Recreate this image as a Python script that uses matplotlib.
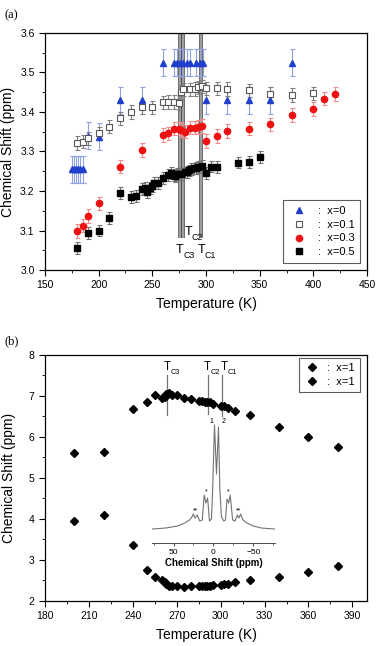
"""Chemical shift vs temperature: (a) x=0..0.5 series with T_C markers, (b) x=1 with NMR inset."""
import matplotlib
matplotlib.use("Agg")
import matplotlib.pyplot as plt
from matplotlib.ticker import MultipleLocator, FormatStrFormatter
from matplotlib.transforms import offset_copy

plt.rcParams["font.family"] = ["Liberation Sans", "DejaVu Sans"]

# ---- panel (a) data ----
T_X0 = [175, 177, 179, 181, 183, 185, 190, 200, 220, 240, 260, 270, 273, 276, 279, 282, 285,
        291, 294, 297, 300, 320, 340, 360, 380]
S_X0 = [3.255, 3.255, 3.255, 3.255, 3.255, 3.255, 3.34, 3.337, 3.43, 3.43, 3.525, 3.525, 3.525,
        3.525, 3.525, 3.525, 3.525, 3.525, 3.525, 3.525, 3.43, 3.43, 3.43, 3.43, 3.525]
T_X01 = [180, 185, 190, 200, 210, 220, 230, 240, 250, 260, 265, 270, 275, 277, 279, 285, 290,
         293, 296, 300, 310, 320, 340, 360, 380, 400]
S_X01 = [3.321, 3.325, 3.333, 3.346, 3.363, 3.384, 3.400, 3.412, 3.412, 3.424, 3.425, 3.425,
         3.423, 3.451, 3.457, 3.457, 3.458, 3.462, 3.465, 3.460, 3.460, 3.458, 3.455, 3.445,
         3.443, 3.447]
T_X03 = [180, 185, 190, 200, 220, 240, 260, 265, 270, 275, 277, 280, 285, 290, 293, 296, 300,
         310, 320, 340, 360, 380, 400, 410, 420]
S_X03 = [3.099, 3.112, 3.137, 3.169, 3.262, 3.304, 3.342, 3.346, 3.358, 3.358, 3.354, 3.350,
         3.360, 3.360, 3.362, 3.365, 3.327, 3.339, 3.352, 3.358, 3.369, 3.392, 3.408, 3.434, 3.446]
T_X05 = [180, 190, 200, 210, 220, 230, 235, 240, 243, 245, 248, 250, 252, 255, 260, 265, 267,
         270, 271, 273, 275, 277, 280, 282, 284, 286, 289, 291, 293, 296, 300, 305, 310, 330,
         340, 350]
S_X05 = [3.056, 3.094, 3.100, 3.132, 3.194, 3.184, 3.188, 3.205, 3.207, 3.197, 3.207, 3.213,
         3.221, 3.220, 3.232, 3.240, 3.245, 3.240, 3.237, 3.243, 3.242, 3.243, 3.247, 3.249,
         3.252, 3.255, 3.257, 3.259, 3.260, 3.263, 3.245, 3.262, 3.260, 3.272, 3.274, 3.286]
ERR_X0, ERR_X01, ERR_X03, ERR_X05 = 0.034, 0.017, 0.017, 0.015
TC_A = [276.0, 278.6, 295.2]          # T_C3, T_C2, T_C1

# ---- panel (b) data ----
T_B = [200, 220, 240, 250, 255, 260, 262, 263, 265, 267, 270, 275, 280, 285, 287, 289, 291,
       293, 295, 300, 302, 305, 310, 320, 340, 360, 380]
S_B_UP = [5.60, 5.64, 6.67, 6.86, 7.02, 6.94, 6.97, 7.04, 7.08, 7.03, 7.02, 6.94, 6.92, 6.88,
          6.87, 6.85, 6.84, 6.84, 6.81, 6.75, 6.74, 6.71, 6.64, 6.53, 6.23, 6.00, 5.76]
S_B_LO = [3.95, 4.09, 3.37, 2.76, 2.58, 2.50, 2.45, 2.41, 2.37, 2.35, 2.35, 2.33, 2.36, 2.35,
          2.36, 2.37, 2.37, 2.37, 2.38, 2.38, 2.40, 2.42, 2.46, 2.50, 2.59, 2.71, 2.85]
TC_B = [263.2, 291.7, 301.2]          # T_C3, T_C2, T_C1

# inset NMR spectrum, traced (ppm, arbitrary intensity)
SPEC_PPM = [77, 60, 45, 36, 30, 27, 25.4, 23, 20.4, 17, 14, 11.6, 9.5, 7.3, 5, 2.5, 1, -1.3,
            -3.8, -6.3, -8, -10, -13, -15, -17, -19, -21, -24, -27, -30, -32, -34, -37, -42,
            -50, -60, -77]
SPEC_INT = [0, 1, 3, 6, 9, 12, 15, 11, 14, 8, 9, 34, 26, 31, 8, 10, 40, 104, 55, 102, 40, 12,
            8, 9, 30, 26, 34, 9, 8, 14, 11, 15, 9, 6, 3, 1, 0]


def style_axes(ax, fs=7.5):
    ax.tick_params(which="both", direction="out", top=False, right=False, labelsize=fs)
    ax.tick_params(which="major", length=4, width=0.8)
    ax.tick_params(which="minor", length=2, width=0.6)
    for sp in ax.spines.values():
        sp.set_linewidth(0.9)


def tc_label(ax, x, y, sub, fs=9, sfs=6.3):
    # "T" with a small, lowered subscript, like the original figure
    ax.text(x, y, "T", fontsize=fs, ha="left", va="baseline")
    tr = offset_copy(ax.transData, fig=ax.figure, x=0.57 * fs, y=-0.38 * fs, units="points")
    ax.text(x, y, sub, fontsize=sfs, ha="left", va="baseline", transform=tr)


fig = plt.figure(figsize=(3.78, 6.46), dpi=100)

# ================= (a) =================
ax = fig.add_axes([0.119, 0.582, 0.852, 0.367])
for x in TC_A:
    ax.plot([x, x], [3.08, 3.6], color="0.3", lw=2.6, zorder=1, solid_capstyle="butt")
    ax.plot([x, x], [3.08, 3.6], color="0.72", lw=1.1, zorder=1.1, solid_capstyle="butt")

kw = dict(ls="none", capsize=1.8, elinewidth=0.8, capthick=0.8, zorder=3)
h0 = ax.errorbar(T_X0, S_X0, yerr=ERR_X0, marker="^", ms=4.5, color="#1f3fcc",
                 ecolor="#8fa2e6", **kw)
h1 = ax.errorbar(T_X01, S_X01, yerr=ERR_X01, marker="s", ms=4, mfc="white", mec="0.35",
                 mew=0.8, color="0.35", ecolor="0.5", **kw)
h3 = ax.errorbar(T_X03, S_X03, yerr=ERR_X03, marker="o", ms=4.5, color="#ee1111",
                 ecolor="#f38c8c", **kw)
h5 = ax.errorbar(T_X05, S_X05, yerr=ERR_X05, marker="s", ms=4, color="black",
                 ecolor="0.45", **kw)

tc_label(ax, 279.8, 3.089, "C2")
tc_label(ax, 272.0, 3.042, "C3")
tc_label(ax, 291.9, 3.042, "C1")

ax.set_xlim(150, 450)
ax.set_ylim(3.0, 3.6)
ax.xaxis.set_major_locator(MultipleLocator(50))
ax.xaxis.set_minor_locator(MultipleLocator(25))
ax.yaxis.set_major_locator(MultipleLocator(0.1))
ax.yaxis.set_minor_locator(MultipleLocator(0.05))
ax.yaxis.set_major_formatter(FormatStrFormatter("%.1f"))
style_axes(ax)
ax.set_xlabel("Temperature (K)", fontsize=10, labelpad=5)
ax.set_ylabel("Chemical Shift (ppm)", fontsize=10, labelpad=4)
leg = ax.legend([h0[0], h1[0], h3[0], h5[0]], [":  x=0", ":  x=0.1", ":  x=0.3", ":  x=0.5"],
                loc="lower right", bbox_to_anchor=(0.978, 0.03), borderaxespad=0,
                fontsize=8, fancybox=False, edgecolor="0.2", handlelength=1.9,
                handletextpad=0.7, labelspacing=0.35, borderpad=0.5)
leg.get_frame().set_linewidth(0.8)
fig.text(0.013, 0.977, "(a)", fontsize=9, family="Liberation Serif", va="center")

# ================= (b) =================
bx = fig.add_axes([0.119, 0.070, 0.852, 0.3808])
for x, y1 in zip(TC_B, [6.53, 6.55, 6.50]):
    bx.plot([x, x], [y1, 7.51], color="0.45", lw=0.9, zorder=1)
tc_label(bx, 260.9, 7.63, "C3", fs=8.5, sfs=5.3)
tc_label(bx, 288.4, 7.63, "C2", fs=8.5, sfs=5.3)
tc_label(bx, 300.4, 7.63, "C1", fs=8.5, sfs=5.3)

u, = bx.plot(T_B, S_B_UP, ls="none", marker="D", ms=4.3, color="black", zorder=3)
l, = bx.plot(T_B, S_B_LO, ls="none", marker="D", ms=4.3, color="black", zorder=3)
bx.set_xlim(180, 400)
bx.set_ylim(2, 8)
bx.xaxis.set_major_locator(MultipleLocator(30))
bx.xaxis.set_minor_locator(MultipleLocator(15))
bx.yaxis.set_major_locator(MultipleLocator(1))
bx.yaxis.set_minor_locator(MultipleLocator(0.5))
style_axes(bx)
bx.set_xlabel("Temperature (K)", fontsize=10, labelpad=5)
bx.set_ylabel("Chemical Shift (ppm)", fontsize=10, labelpad=9)
legb = bx.legend([u, l], [":  x=1", ":  x=1"], loc="upper right",
                 bbox_to_anchor=(0.978, 0.988), borderaxespad=0, fontsize=8,
                 fancybox=False, edgecolor="0.2", handlelength=1.4, handletextpad=0.7,
                 labelspacing=0.35, borderpad=0.45)
legb.get_frame().set_linewidth(0.8)
fig.text(0.013, 0.472, "(b)", fontsize=9, family="Liberation Serif", va="center")

# inset spectrum
ins = fig.add_axes([0.402, 0.1594, 0.3254, 0.1935])
ins.patch.set_alpha(0)
ins.plot(SPEC_PPM, SPEC_INT, color="0.45", lw=0.8)
ins.set_xlim(77, -77)
ins.set_ylim(-14, 111)
for s in ("left", "right", "top"):
    ins.spines[s].set_visible(False)
ins.spines["bottom"].set_linewidth(0.7)
ins.spines["bottom"].set_color("0.3")
ins.set_yticks([])
ins.xaxis.set_major_locator(MultipleLocator(50))
ins.xaxis.set_minor_locator(MultipleLocator(25))
ins.tick_params(which="both", direction="out", labelsize=6, pad=1.5, color="0.3")
ins.tick_params(which="major", length=2.5)
ins.tick_params(which="minor", length=1.5)
ins.set_xlabel("Chemical Shift (ppm)", fontsize=7, fontweight="bold", labelpad=1.5)
ins.text(2.9, 104, "1", fontsize=5, ha="center", va="bottom")
ins.text(-13, 104, "2", fontsize=5, ha="center", va="bottom")
for px, py, s in [(9.5, 34, "*"), (-19, 34, "*"), (23, 15, "**"), (-32, 15, "**")]:
    ins.text(px, py, s, fontsize=5, ha="center", va="bottom")

fig.savefig("out.png", dpi=100)
